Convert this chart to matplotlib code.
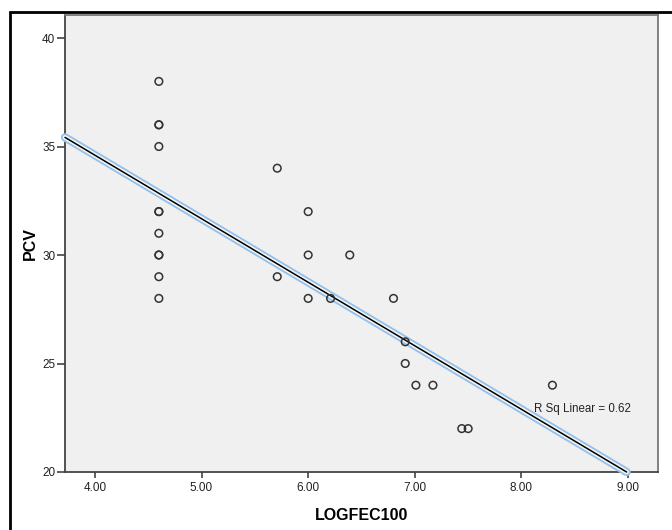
import numpy as np
import matplotlib
matplotlib.use("Agg")
import matplotlib.pyplot as plt
from matplotlib.patches import Rectangle

# Data
logfec100 = [4.6, 4.6, 4.6, 4.6, 4.6, 4.6, 4.6, 4.6, 4.6, 4.6, 4.6,
             5.71, 5.71,
             6.0, 6.0, 6.0,
             6.21, 6.39, 6.8,
             6.91, 6.91, 7.01, 7.17,
             7.44, 7.5, 8.29]
pcv = [38, 36, 36, 35, 32, 32, 31, 30, 30, 29, 28,
       34, 29,
       32, 30, 28,
       28, 30, 28,
       26, 25, 24, 24,
       22, 22, 24]
r_sq_text = "R Sq Linear = 0.62"
x_ticks = [4.0, 5.0, 6.0, 7.0, 8.0, 9.0]
y_ticks = [20, 25, 30, 35, 40]

plt.rcParams['font.family'] = ['Liberation Sans', 'DejaVu Sans']

fig = plt.figure(figsize=(6.72, 5.30), dpi=100)
fig.patch.set_facecolor('white')
W, H = 672, 530
ax = fig.add_axes([65 / W, (H - 472) / H, 593 / W, 457 / H])
ax.set_facecolor('#F0F0F0')

xlim = (3.72, 9.28)
ylim = (20, 41.06)
ax.set_xlim(*xlim)
ax.set_ylim(*ylim)

x = np.array(logfec100)
y = np.array(pcv)
slope, intercept = np.polyfit(x, y, 1)
x_end = (ylim[0] - intercept) / slope
xs = np.array([xlim[0], x_end])
ys = slope * xs + intercept
ax.plot(xs, ys, color='#92C0EA', lw=6.0, solid_capstyle='round', clip_on=False, zorder=3)
ax.plot(xs, ys, color='#F3F5F7', lw=3.4, solid_capstyle='round', clip_on=False, zorder=3)
ax.plot(xs, ys, color='black', lw=1.1, solid_capstyle='round', clip_on=False, zorder=4)

ax.scatter(x, y, s=30, facecolors='none', edgecolors='#333333', linewidths=1.1, zorder=5)

ax.text(8.12, 22.9, r_sq_text, fontsize=8.3, color='#222222', ha='left', va='center', zorder=6)

ax.set_xticks(x_ticks)
ax.set_xticklabels([f"{t:.2f}" for t in x_ticks])
ax.set_yticks(y_ticks)
ax.set_yticklabels([str(t) for t in y_ticks])
ax.tick_params(axis='both', labelsize=8.5, labelcolor='#222222', direction='out')
ax.tick_params(axis='y', length=6, width=1.1, color='#333333', pad=1)
ax.tick_params(axis='x', length=4, width=1.1, color='#333333', pad=3)

for s in ['left', 'bottom']:
    ax.spines[s].set_color('#444444')
    ax.spines[s].set_linewidth(1.3)
for s in ['top', 'right']:
    ax.spines[s].set_color('#777777')
    ax.spines[s].set_linewidth(1.3)

ax.set_xlabel('LOGFEC100', fontsize=11.5, fontweight='bold', labelpad=10)
ax.set_ylabel('PCV', fontsize=11.5, fontweight='bold', labelpad=3)

# Outer frame around the chart (extends past right/bottom of the image)
fig.patches.append(Rectangle((10 / W, -0.05), 1.0, (H - 12) / H + 0.05,
                             transform=fig.transFigure, fill=False,
                             edgecolor='black', lw=2, zorder=0))

fig.savefig('out.png', dpi=100)
